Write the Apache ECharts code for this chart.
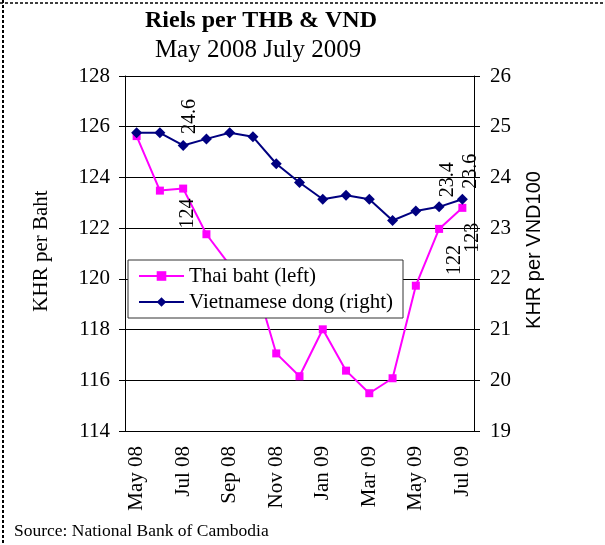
<!DOCTYPE html>
<html>
<head>
<meta charset="utf-8">
<script src="https://cdn.jsdelivr.net/npm/echarts@6/dist/echarts.min.js"></script>
<style>
  html, body { margin: 0; padding: 0; background: #fff; }
  #chart { width: 605px; height: 545px; }
</style>
</head>
<body>
<div id="chart"></div>
<script>
// months on the x axis
var months = ['May 08', 'Jun 08', 'Jul 08', 'Aug 08', 'Sep 08', 'Oct 08', 'Nov 08', 'Dec 08',
              'Jan 09', 'Feb 09', 'Mar 09', 'Apr 09', 'May 09', 'Jun 09', 'Jul 09'];
// riels per baht (left axis)
var thbValues = [125.63, 123.48, 123.56, 121.76, 120.54, 120.19, 117.06, 116.16,
                 118.01, 116.38, 115.49, 116.08, 119.73, 121.97, 122.8];
// riels per 100 dong (right axis)
var vndValues = [24.88, 24.88, 24.63, 24.76, 24.88, 24.8, 24.27, 23.9,
                 23.57, 23.65, 23.57, 23.15, 23.34, 23.42, 23.57];
var leftTicks = [114, 128, 2];
var rightTicks = [19, 26, 1];
// points that carry a value label
var thbLabelled = [2, 13, 14];
var vndLabelled = [2, 13, 14];

var serif = 'Liberation Serif';

// label placement: distance from the marker, sideways shift (rotated frame, so offset[1] is screen x)
var thbLabelStyle = {
    2: { distance: 6, shift: 5 },
    13: { distance: 12, shift: 16 },
    14: { distance: 11, shift: 10 }
};
var vndLabelStyle = {
    2: { distance: 6, shift: 7 },
    13: { distance: 4, shift: 9 },
    14: { distance: 5, shift: 8 }
};

function buildData(values, labelled, styles, isTop, digits) {
    return values.map(function (v, i) {
        if (labelled.indexOf(i) < 0) return v;
        var s = styles[i];
        return {
            value: v,
            label: {
                show: true,
                position: isTop ? 'top' : 'bottom',
                rotate: 90,
                align: isTop ? 'left' : 'right',
                verticalAlign: 'middle',
                distance: s.distance,
                offset: [0, s.shift],
                fontFamily: serif,
                fontSize: 20,
                color: '#000',
                formatter: function (p) { return p.value.toFixed(digits); }
            }
        };
    });
}

var myChart = echarts.init(document.getElementById('chart'));

var option = {
    animation: false,
    backgroundColor: '#fff',
    grid: { left: 125, right: 131, top: 76, bottom: 114 },
    legend: {
        orient: 'vertical',
        left: 128,
        top: 260,
        z: 10,
        padding: [4, 10, 4, 10],
        itemGap: 2,
        itemWidth: 45,
        itemHeight: 12,
        backgroundColor: '#fff',
        borderColor: '#333',
        borderWidth: 1,
        textStyle: { fontFamily: serif, fontSize: 21, color: '#000', lineHeight: 24 },
        data: ['Thai baht (left)', 'Vietnamese dong (right)']
    },
    xAxis: {
        type: 'category',
        data: months,
        boundaryGap: true,
        axisLine: { lineStyle: { color: '#000', width: 1 } },
        axisTick: { interval: 1, length: 6, lineStyle: { color: '#000' } },
        axisLabel: {
            interval: 1,
            rotate: 90,
            margin: 15,
            fontFamily: serif,
            fontSize: 21,
            color: '#000'
        }
    },
    yAxis: [
        {
            type: 'value',
            min: leftTicks[0],
            max: leftTicks[1],
            interval: leftTicks[2],
            axisLine: { show: true, lineStyle: { color: '#000' } },
            axisTick: { show: true, length: 6, lineStyle: { color: '#000' } },
            axisLabel: { margin: 15, fontFamily: serif, fontSize: 21, color: '#000' },
            splitLine: { show: true, lineStyle: { color: '#000', width: 1 } }
        },
        {
            type: 'value',
            position: 'right',
            min: rightTicks[0],
            max: rightTicks[1],
            interval: rightTicks[2],
            axisLine: { show: true, lineStyle: { color: '#000' } },
            axisTick: { show: true, length: 6, lineStyle: { color: '#000' } },
            axisLabel: { margin: 16, fontFamily: serif, fontSize: 21, color: '#000' },
            splitLine: { show: false }
        }
    ],
    series: [
        {
            name: 'Thai baht (left)',
            type: 'line',
            yAxisIndex: 0,
            data: buildData(thbValues, thbLabelled, thbLabelStyle, false, 0),
            symbol: 'rect',
            symbolSize: 8,
            showAllSymbol: true,
            lineStyle: { color: '#ff00ff', width: 2 },
            itemStyle: { color: '#ff00ff' }
        },
        {
            name: 'Vietnamese dong (right)',
            type: 'line',
            yAxisIndex: 1,
            data: buildData(vndValues, vndLabelled, vndLabelStyle, true, 1),
            symbol: 'diamond',
            symbolSize: 11,
            showAllSymbol: true,
            lineStyle: { color: '#000080', width: 2 },
            itemStyle: { color: '#000080' }
        }
    ],
    graphic: [
        // dashed frame
        { type: 'line', shape: { x1: 3, y1: 0, x2: 3, y2: 545 }, style: { stroke: '#000', lineWidth: 2, lineDash: [3, 2] } },
        { type: 'line', shape: { x1: 0, y1: 3, x2: 605, y2: 3 }, style: { stroke: '#000', lineWidth: 1.5, lineDash: [3, 2] } },
        // titles
        { type: 'text', x: 261, y: 21, style: { text: 'Riels per THB & VND', font: 'bold 24px "Liberation Serif"', fill: '#000', textAlign: 'center', textVerticalAlign: 'middle' } },
        { type: 'text', x: 258, y: 50, style: { text: 'May 2008 July 2009', font: '25px "Liberation Serif"', fill: '#000', textAlign: 'center', textVerticalAlign: 'middle' } },
        // axis names
        { type: 'text', x: 41, y: 251, rotation: Math.PI / 2, style: { text: 'KHR per Baht', font: '21px "Liberation Serif"', fill: '#000', textAlign: 'center', textVerticalAlign: 'middle' } },
        { type: 'text', x: 534, y: 250, rotation: Math.PI / 2, style: { text: 'KHR per VND100', font: '20px "Liberation Sans"', fill: '#000', textAlign: 'center', textVerticalAlign: 'middle' } },
        // source note
        { type: 'text', x: 14, y: 531, style: { text: 'Source: National Bank of Cambodia', font: '17.5px "Liberation Serif"', fill: '#000', textAlign: 'left', textVerticalAlign: 'middle' } }
    ]
};

myChart.setOption(option);
</script>
</body>
</html>
